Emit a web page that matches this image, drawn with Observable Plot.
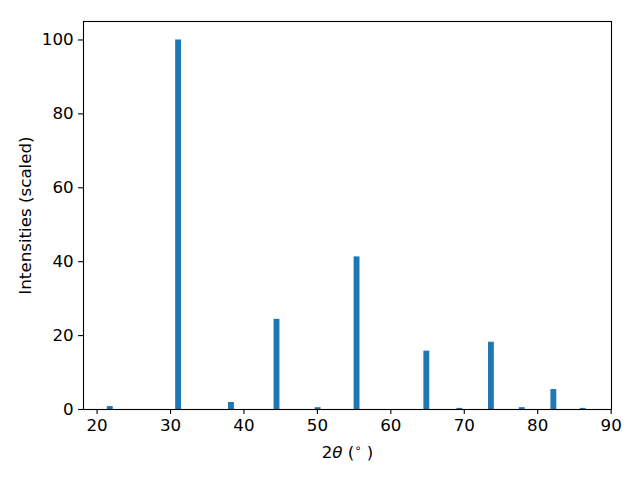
<!DOCTYPE html>
<html>
<head>
<meta charset="utf-8">
<script src="https://cdn.jsdelivr.net/npm/d3@7"></script>
<script src="https://cdn.jsdelivr.net/npm/@observablehq/plot@0.6"></script>
<style>
  html, body { margin: 0; padding: 0; background: #fff; }
  #chart svg text, #chart svg tspan { font-family: "DejaVu Sans", sans-serif !important; }
  #chart svg text { font-size: 16.7px !important; }
</style>
</head>
<body>
<div id="chart"></div>
<script>
// 2θ peak positions (degrees)
const twoTheta = [21.8, 31.1, 38.3, 44.5, 50.1, 55.4, 64.9, 69.4, 73.7, 77.9, 82.2, 86.2];
// scaled intensities
const intensities = [0.8, 100, 1.9, 24.4, 0.5, 41.3, 15.8, 0.3, 18.2, 0.5, 5.4, 0.3];
const xTicks = [20, 30, 40, 50, 60, 70, 80, 90];
const yTicks = [0, 20, 40, 60, 80, 100];

const barWidth = 0.8;
const data = twoTheta.map((x, i) => ({x, y: intensities[i]}));

const plot = Plot.plot({
  width: 640,
  height: 480,
  marginLeft: 83,
  marginRight: 29,
  marginTop: 21,
  marginBottom: 71,
  style: {fontFamily: "DejaVu Sans", fontSize: "16.7px", color: "black", background: "white"},
  x: {domain: [18.15, 90.05]},
  y: {domain: [0, 105]},
  marks: [
    Plot.rectY(data, {x1: d => d.x - barWidth / 2, x2: d => d.x + barWidth / 2, y: "y", fill: "#1f77b4"}),
    Plot.axisX({ticks: xTicks, tickSize: 4.9, tickPadding: 4.9, strokeWidth: 1.1, label: null}),
    Plot.axisY({ticks: yTicks, tickSize: 4.9, tickPadding: 4.9, strokeWidth: 1.1, label: null}),
    Plot.frame({stroke: "black", strokeWidth: 1.1}),
    Plot.text(["Intensities (scaled)"], {frameAnchor: "left", textAnchor: "middle", lineAnchor: "middle", rotate: -90, dx: -58, fill: "black"}),
    Plot.text(["2θ (°)"], {frameAnchor: "bottom", textAnchor: "middle", lineAnchor: "middle", dy: 43, fill: "black", className: "xlabel"})
  ]
});
document.getElementById("chart").appendChild(plot);

d3.select(plot).selectAll("text").style("font-size", "16.7px", "important").style("font-family", "'DejaVu Sans'", "important");

// render the x label with italic theta and a raised degree ring
const t = d3.select(plot).select(".xlabel text");
t.text(null);
t.append("tspan").text("2");
t.append("tspan").attr("font-style", "italic").text("θ");
t.append("tspan").text(" (");
t.append("tspan").style("font-size", "11.5px", "important").attr("dy", "-0.5em").text("∘");
t.append("tspan").attr("dy", "0.35em").text(" )");
</script>
</body>
</html>
